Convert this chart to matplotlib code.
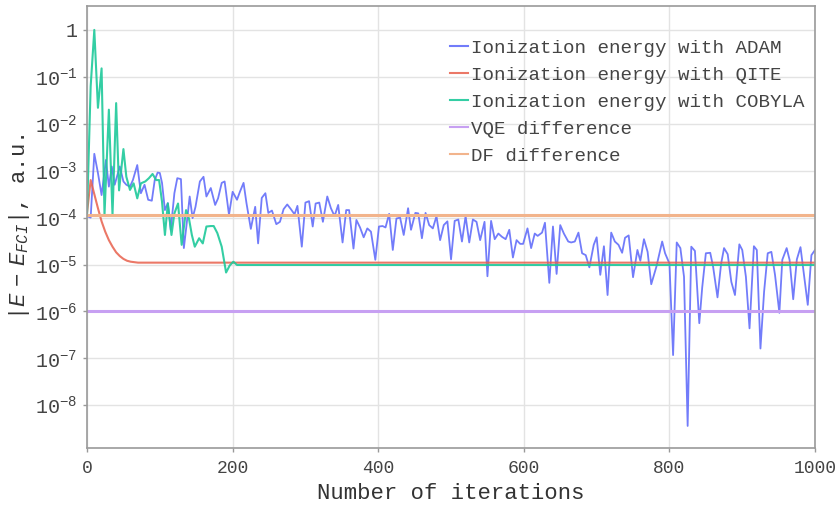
import numpy as np
import matplotlib
matplotlib.use("Agg")
import matplotlib.pyplot as plt

# log10 of |E - E_FCI|, per iteration
adam_iter = [0, 5, 10, 15, 20, 26, 30, 34, 38, 41, 45, 50, 54, 59, 63, 69, 74, 79, 84, 89,
             93, 97, 100, 103, 107, 111, 115, 120, 124, 129, 133, 138, 141, 145, 149, 155, 160, 164, 170, 176,
             180, 185, 189, 195, 200, 206, 210, 215, 219, 225, 231, 235, 240, 245, 249, 254, 260, 265, 270, 275,
             280, 285, 289, 295, 300, 305, 310, 314, 319, 324, 330, 335, 340, 345, 351, 356, 360, 366, 370, 375,
             380, 385, 390, 396, 401, 406, 410, 415, 420, 425, 430, 435, 441, 445, 451, 455, 460, 465, 470, 475,
             480, 485, 490, 495, 500, 505, 510, 515, 520, 525, 530, 535, 540, 546, 550, 555, 560, 565, 570, 575,
             580, 585, 590, 595, 599, 605, 610, 615, 619, 625, 629, 635, 640, 645, 650, 655, 661, 665, 670, 675,
             680, 685, 690, 696, 700, 705, 710, 715, 720, 725, 730, 735, 739, 744, 750, 756, 760, 765, 770, 775,
             782, 790, 794, 800, 805, 810, 815, 820, 825, 830, 835, 841, 845, 850, 856, 860, 866, 871, 875, 880,
             885, 890, 896, 900, 905, 910, 916, 920, 925, 930, 935, 940, 945, 951, 955, 961, 965, 970, 975, 980,
             984, 990, 995, 1000]
adam_log = [-3.97, -4.0, -2.64, -3.05, -3.52, -2.77, -3.34, -2.91, -3.30, -3.13, -2.91, -3.23, -3.30, -3.34, -3.20, -2.88, -3.48, -3.30, -3.62, -3.64,
            -3.20, -3.04, -3.05, -3.26, -3.84, -3.69, -4.26, -3.48, -3.16, -3.18, -4.65, -3.98, -3.55, -4.01, -3.77, -3.23, -3.13, -3.55, -3.37, -3.73,
            -3.59, -3.26, -3.23, -3.94, -3.45, -3.62, -3.45, -3.26, -3.69, -4.24, -3.77, -4.55, -3.58, -3.48, -3.90, -3.85, -4.14, -4.09, -3.82, -3.72,
            -3.82, -3.93, -3.75, -4.62, -3.68, -3.65, -4.19, -3.70, -3.68, -4.09, -3.55, -3.80, -3.97, -3.73, -4.53, -3.84, -3.84, -4.66, -4.05, -4.21,
            -4.42, -4.23, -4.30, -4.90, -4.19, -4.18, -4.21, -3.92, -4.69, -4.02, -4.00, -4.37, -3.80, -4.26, -3.90, -3.91, -4.44, -3.90, -4.16, -4.23,
            -3.97, -4.48, -4.16, -4.08, -4.89, -4.07, -4.04, -4.51, -3.97, -4.53, -4.04, -4.09, -4.48, -4.09, -5.25, -4.07, -4.46, -4.34, -4.41, -4.46,
            -4.26, -4.85, -4.48, -4.56, -4.56, -4.23, -4.65, -4.34, -4.39, -4.32, -4.11, -5.39, -4.19, -5.20, -4.16, -4.34, -4.51, -4.53, -4.51, -4.32,
            -4.76, -4.80, -5.06, -4.58, -4.42, -5.22, -4.61, -5.65, -4.32, -4.51, -4.58, -4.75, -4.43, -4.38, -5.27, -4.69, -4.92, -4.46, -4.73, -5.42,
            -5.05, -4.51, -4.76, -4.98, -6.93, -4.53, -4.65, -5.26, -8.44, -4.62, -4.71, -6.25, -5.49, -4.76, -4.75, -5.05, -5.70, -4.98, -4.65, -4.78,
            -5.37, -5.65, -4.57, -4.69, -5.26, -6.36, -4.61, -4.69, -6.79, -5.58, -4.76, -4.73, -5.22, -6.03, -4.90, -4.65, -4.90, -5.74, -4.89, -4.63,
            -5.12, -5.86, -4.80, -4.69]

qite_iter = [0, 5, 10, 15, 20, 25, 30, 35, 40, 45, 50, 55, 60, 70, 1000]
qite_log = [-3.9, -3.2, -3.5, -3.8, -4.08, -4.3, -4.48, -4.62, -4.74, -4.82, -4.88, -4.92, -4.94, -4.96, -4.96]

cobyla_iter = [0, 5, 10, 15, 20, 24, 30, 35, 40, 44, 50, 54, 59, 64, 69, 74, 80, 85, 90, 95,
               99, 103, 107, 111, 116, 120, 125, 130, 136, 140, 144, 148, 154, 159, 164, 170, 174, 179, 185, 191,
               196, 201, 206, 1000]
cobyla_log = [-3.92, -1.2, 0.0, -1.66, -0.82, -3.94, -1.70, -3.94, -1.56, -3.42, -2.54, -3.13, -3.41, -3.27, -3.59, -3.27, -3.23, -3.16, -3.07, -3.20,
              -3.20, -3.66, -4.37, -3.70, -4.37, -3.91, -3.70, -4.58, -3.84, -4.02, -4.37, -4.62, -4.44, -4.55, -4.19, -4.18, -4.18, -4.33, -4.62, -5.17,
              -5.02, -4.94, -5.01, -5.01]

vqe_diff = 1e-6
df_diff = 1.15e-4

labels = ["Ionization energy with ADAM", "Ionization energy with QITE",
          "Ionization energy with COBYLA", "VQE difference", "DF difference"]
ytick_vals = [1e0, 1e-1, 1e-2, 1e-3, 1e-4, 1e-5, 1e-6, 1e-7, 1e-8]
ytick_labels = ["1"] + [r"$\mathregular{10^{-%d}}$" % k for k in range(1, 9)]

plt.rcParams['font.family'] = ['Liberation Mono', 'DejaVu Sans']
plt.rcParams['mathtext.fontset'] = 'custom'
plt.rcParams['mathtext.rm'] = 'Liberation Mono'
plt.rcParams['mathtext.it'] = 'Liberation Mono:italic'

fig = plt.figure(figsize=(8.4, 5.07), dpi=100)
ax = fig.add_axes([0.1036, 0.1164, 0.8667, 0.8718])

ax.plot(adam_iter, 10 ** np.array(adam_log), color='#636efa', lw=1.3, alpha=0.9, label=labels[0])
ax.plot(qite_iter, 10 ** np.array(qite_log), color='#e8604c', lw=1.5, alpha=0.85, label=labels[1])
ax.plot(cobyla_iter, 10 ** np.array(cobyla_log), color='#1ec99a', lw=1.5, alpha=0.9, label=labels[2])
ax.plot([0, 1000], [vqe_diff, vqe_diff], color='#c7a0f2', lw=2.2, label=labels[3])
ax.plot([0, 1000], [df_diff, df_diff], color='#f2b48c', lw=2.2, label=labels[4])

ax.set_yscale('log')
ax.set_xlim(0, 1000)
ax.set_ylim(10 ** -8.91, 10 ** 0.51)
ax.set_xticks([0, 200, 400, 600, 800, 1000])
ax.set_yticks(ytick_vals)
ax.set_yticklabels(ytick_labels)
ax.yaxis.set_minor_locator(matplotlib.ticker.NullLocator())
ax.tick_params(axis='both', colors='#999999', labelcolor='#444444', length=3, width=1)
ax.tick_params(axis='x', pad=6, labelsize=13)
ax.tick_params(axis='y', pad=4, labelsize=14.5)

ax.grid(True, color='#e3e3e3', lw=1)
ax.set_axisbelow(True)
for sp in ax.spines.values():
    sp.set_color('#9a9a9a')
    sp.set_linewidth(1.2)

ax.set_xlabel("Number of iterations", fontsize=16, color='#333333', labelpad=4)
ax.set_ylabel(r"$|E\ -\ E_{FCI}|$, a.u.", fontsize=16, color='#333333', labelpad=2)

leg = ax.legend(loc='upper left', bbox_to_anchor=(0.498, 0.925), frameon=False, fontsize=13.8,
                handlelength=0.95, handletextpad=0.15, labelspacing=0.5, borderpad=0, borderaxespad=0)
for line in leg.get_lines():
    line.set_linewidth(1.5)
for t in leg.get_texts():
    t.set_color('#444444')

fig.savefig("out.png", dpi=100)
